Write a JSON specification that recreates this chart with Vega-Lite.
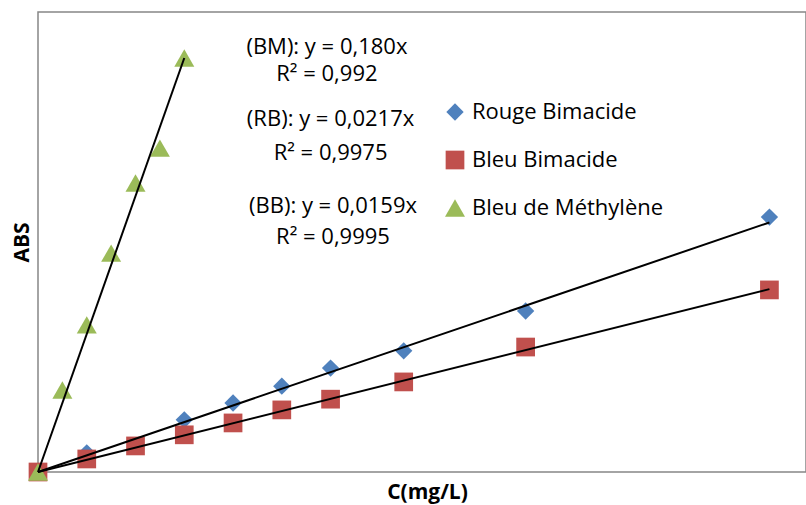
{
  "$schema": "https://vega.github.io/schema/vega-lite/v6.json",
  "width": 768,
  "height": 460,
  "autosize": {"type": "none"},
  "padding": {"left": 38, "top": 12, "right": 0, "bottom": 33},
  "config": {
    "view": {"stroke": "#878787", "strokeWidth": 1.5},
    "font": "Open Sans"
  },
  "datasets": {
    "points": [
      {"serie": "Rouge Bimacide", "C": 0, "A": 0},
      {"serie": "Rouge Bimacide", "C": 2, "A": 0.05},
      {"serie": "Rouge Bimacide", "C": 6, "A": 0.136},
      {"serie": "Rouge Bimacide", "C": 8, "A": 0.18},
      {"serie": "Rouge Bimacide", "C": 10, "A": 0.224},
      {"serie": "Rouge Bimacide", "C": 12, "A": 0.271},
      {"serie": "Rouge Bimacide", "C": 15, "A": 0.316},
      {"serie": "Rouge Bimacide", "C": 20, "A": 0.42},
      {"serie": "Rouge Bimacide", "C": 30, "A": 0.665},
      {"serie": "Bleu Bimacide", "C": 0, "A": 0},
      {"serie": "Bleu Bimacide", "C": 2, "A": 0.034},
      {"serie": "Bleu Bimacide", "C": 4, "A": 0.068},
      {"serie": "Bleu Bimacide", "C": 6, "A": 0.097},
      {"serie": "Bleu Bimacide", "C": 8, "A": 0.128},
      {"serie": "Bleu Bimacide", "C": 10, "A": 0.162},
      {"serie": "Bleu Bimacide", "C": 12, "A": 0.19},
      {"serie": "Bleu Bimacide", "C": 15, "A": 0.235},
      {"serie": "Bleu Bimacide", "C": 20, "A": 0.326},
      {"serie": "Bleu Bimacide", "C": 30, "A": 0.475},
      {"serie": "Bleu de Méthylène", "C": 0, "A": 0},
      {"serie": "Bleu de Méthylène", "C": 1, "A": 0.214},
      {"serie": "Bleu de Méthylène", "C": 2, "A": 0.384},
      {"serie": "Bleu de Méthylène", "C": 3, "A": 0.571},
      {"serie": "Bleu de Méthylène", "C": 4, "A": 0.754},
      {"serie": "Bleu de Méthylène", "C": 5, "A": 0.845},
      {"serie": "Bleu de Méthylène", "C": 6, "A": 1.08}
    ],
    "fits": [
      {"serie": "RB", "C": 0, "A": 0},
      {"serie": "RB", "C": 30, "A": 0.651},
      {"serie": "BB", "C": 0, "A": 0},
      {"serie": "BB", "C": 30, "A": 0.477},
      {"serie": "BM", "C": 0, "A": 0},
      {"serie": "BM", "C": 6, "A": 1.08}
    ],
    "labels": [
      {"label": "(BM): y = 0,180x", "C": 11.85, "A": 1.11},
      {"label": "R² = 0,992", "C": 11.85, "A": 1.039},
      {"label": "(RB): y = 0,0217x", "C": 12.0, "A": 0.92},
      {"label": "R² = 0,9975", "C": 12.0, "A": 0.833},
      {"label": "(BB): y = 0,0159x", "C": 12.1, "A": 0.695},
      {"label": "R² = 0,9995", "C": 12.1, "A": 0.612}
    ]
  },
  "layer": [
    {
      "data": {"name": "points"},
      "mark": {"type": "point", "filled": true, "opacity": 1},
      "encoding": {
        "x": {
          "field": "C", "type": "quantitative",
          "scale": {"domain": [0, 31.5], "nice": false},
          "axis": {"title": "C(mg/L)", "labels": false, "ticks": false, "domain": false, "grid": false,
                   "titleFontSize": 21, "titleFontWeight": "bold", "titleColor": "#000000", "titlePadding": 9, "titleX": 389}
        },
        "y": {
          "field": "A", "type": "quantitative",
          "scale": {"domain": [0, 1.2], "nice": false},
          "axis": {"title": "ABS", "labels": false, "ticks": false, "domain": false, "grid": false,
                   "titleFontSize": 21, "titleFontWeight": "bold", "titleColor": "#000000", "titlePadding": 6}
        },
        "color": {
          "field": "serie", "type": "nominal",
          "scale": {"domain": ["Rouge Bimacide", "Bleu Bimacide", "Bleu de Méthylène"], "range": ["#4F81BD", "#C0504D", "#9BBB59"]},
          "legend": {"title": null, "orient": "none", "legendX": 406, "legendY": 89, "labelFontSize": 22, "labelColor": "#000000",
                     "labelLimit": 400, "symbolSize": 260, "rowPadding": 23, "labelOffset": 6, "symbolOpacity": 1}
        },
        "shape": {
          "field": "serie", "type": "nominal",
          "scale": {"domain": ["Rouge Bimacide", "Bleu Bimacide", "Bleu de Méthylène"], "range": ["diamond", "square", "triangle-up"]}
        },
        "size": {
          "field": "serie", "type": "nominal",
          "scale": {"domain": ["Rouge Bimacide", "Bleu Bimacide", "Bleu de Méthylène"], "range": [300, 400, 420]},
          "legend": null
        }
      }
    },
    {
      "data": {"name": "fits"},
      "mark": {"type": "line", "color": "#000000", "strokeWidth": 2},
      "encoding": {
        "x": {"field": "C", "type": "quantitative"},
        "y": {"field": "A", "type": "quantitative"},
        "detail": {"field": "serie", "type": "nominal"}
      }
    },
    {
      "data": {"name": "labels"},
      "mark": {"type": "text", "fontSize": 22, "color": "#000000", "align": "center", "baseline": "middle"},
      "encoding": {
        "x": {"field": "C", "type": "quantitative"},
        "y": {"field": "A", "type": "quantitative"},
        "text": {"field": "label"}
      }
    }
  ]
}
